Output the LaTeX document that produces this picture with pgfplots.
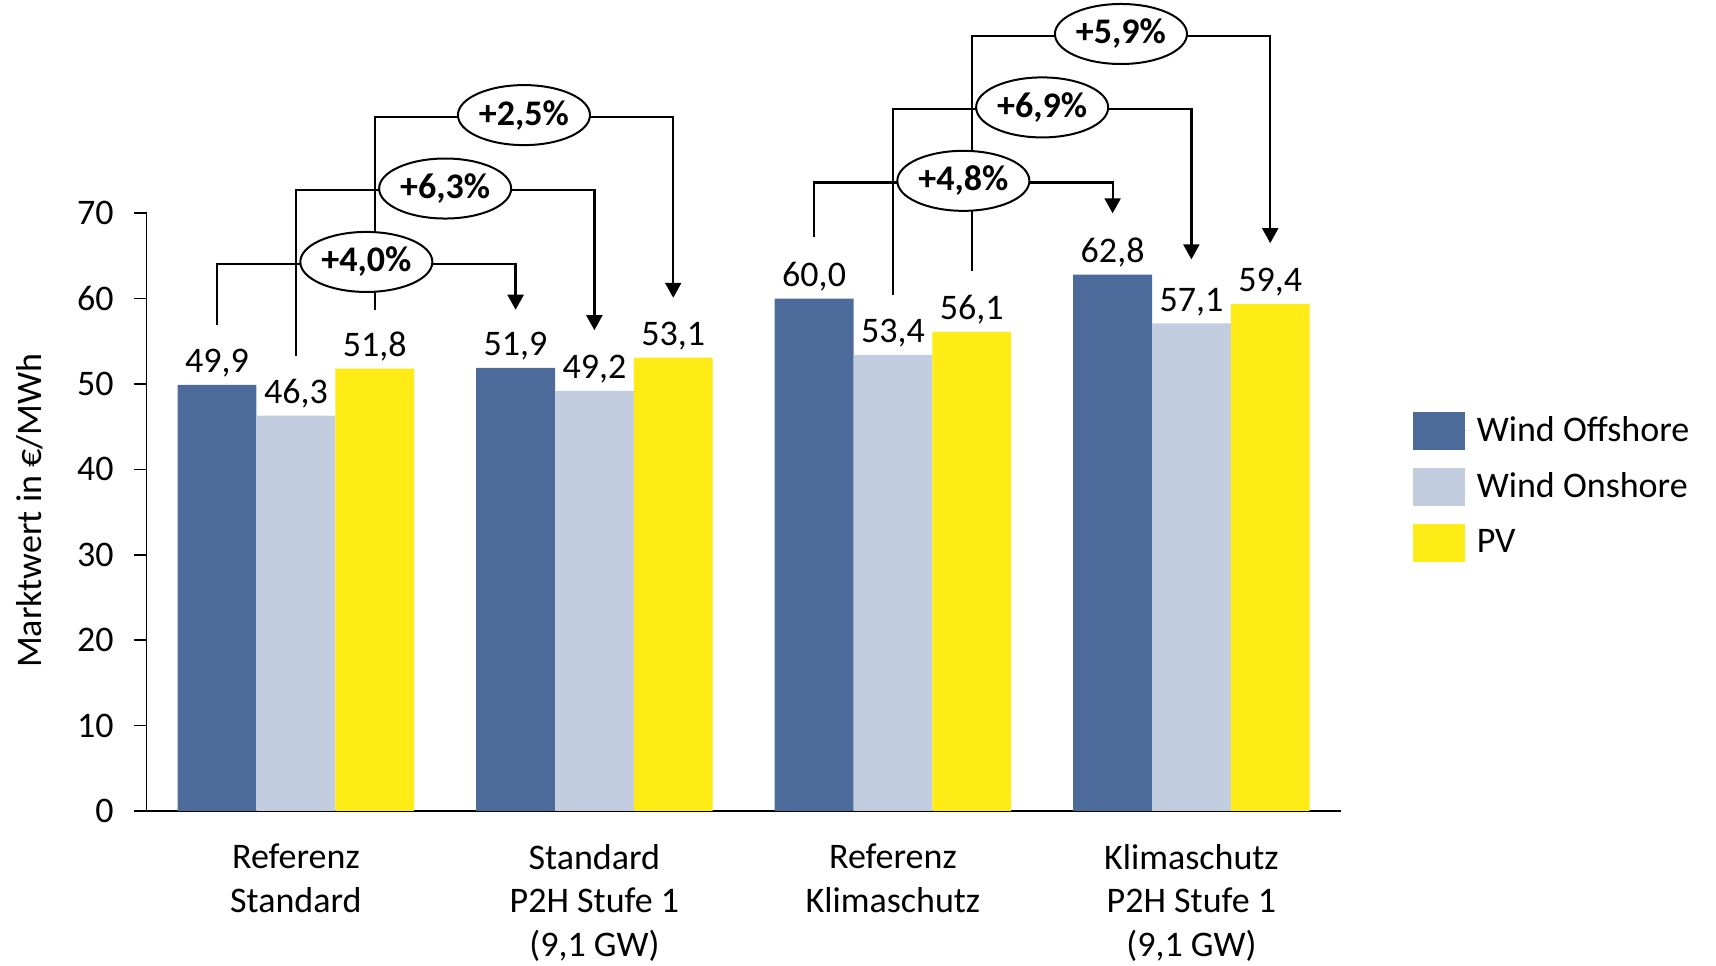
\documentclass[border=0pt]{standalone}
\usepackage{pgfplots}
\pgfplotsset{compat=1.18}
\usepackage{fontspec}
\setmainfont{Carlito}
\usetikzlibrary{arrows.meta,shapes.geometric}
\definecolor{offc}{RGB}{77,107,154}
\definecolor{onc}{RGB}{195,205,224}
\definecolor{pvc}{RGB}{255,235,22}
\newcommand{\fs}{\fontsize{18}{21.9}\selectfont}
\begin{document}
\begin{tikzpicture}[
  br/.style={line width=1.1pt, line join=miter},
  bra/.style={br, -{Triangle[length=7.5pt,width=8pt]}},
  pct/.style={draw, line width=1pt, ellipse, fill=white, minimum width=66pt, minimum height=30pt, inner sep=0pt, font=\fs\bfseries}
]
\begin{axis}[
  scale only axis,
  width=596.8pt, height=298.7pt,
  xmin=-0.5, xmax=3.5, ymin=0, ymax=70,
  clip=false,
  axis x line=bottom, axis y line=left,
  axis line style={-, line width=0.8pt},
  ytick={0,10,...,70},
  xtick={0,1,2,3},
  xticklabels={{Referenz\\Standard},{Standard\\P2H Stufe 1\\(9,1 GW)},{Referenz\\Klimaschutz},{Klimaschutz\\P2H Stufe 1\\(9,1 GW)}},
  xticklabel style={align=center, font=\fs, yshift=-6.6pt},
  yticklabel style={font=\fs},
  yticklabel shift=6.5pt,
  x tick style={draw=none},
  y tick style={line width=0.8pt, black},
  tick align=outside, major tick length=6.5pt,
  /pgf/number format/assume math mode=true,
  ylabel={Marktwert in €/MWh},
  y label style={at={(axis description cs:-0.098,0.502)}, anchor=center, font=\fs},
  ybar, bar width=0.264,
  nodes near coords,
  every node near coord/.append style={font=\fs, inner sep=2pt, yshift=1.5pt},
  nodes near coords style={/pgf/number format/.cd, fixed, fixed zerofill, precision=1, use comma},
  legend style={at={(rel axis cs:1.055,0.675)}, anchor=north west, draw=none, fill=none,
    font=\fs, row sep=9pt, legend cell align=left},
  legend image code/.code={\fill[#1] (0pt,-9.5pt) rectangle (26pt,9.5pt); \path (26pt,0pt) -- (30pt,0pt);},
]
\addplot[fill=offc, draw=none, bar shift=0pt] coordinates {(-0.264,49.9) (0.736,51.9) (1.736,60.0) (2.736,62.8)};
\addplot[fill=onc, draw=none, bar shift=0pt] coordinates {(0,46.3) (1,49.2) (2,53.4) (3,57.1)};
\addplot[fill=pvc, draw=none, bar shift=0pt] coordinates {(0.264,51.8) (1.264,53.1) (2.264,56.1) (3.264,59.4)};
\legend{Wind Offshore, Wind Onshore, PV}
% brackets group 1
\draw[bra] (axis cs:-0.264,56.9) -- (axis cs:-0.264,64.1) -- (axis cs:0.736,64.1) -- (axis cs:0.736,58.7);
\draw[bra] (axis cs:0,53.3) -- (axis cs:0,72.7) -- (axis cs:1,72.7) -- (axis cs:1,56.3);
\draw[bra] (axis cs:0.264,58.7) -- (axis cs:0.264,81.3) -- (axis cs:1.264,81.3) -- (axis cs:1.264,60.1);
% brackets group 3
\draw[bra] (axis cs:1.736,67.2) -- (axis cs:1.736,73.6) -- (axis cs:2.736,73.6) -- (axis cs:2.736,70.0);
\draw[bra] (axis cs:2,60.4) -- (axis cs:2,82.2) -- (axis cs:3,82.2) -- (axis cs:3,64.6);
\draw[bra] (axis cs:2.264,63.2) -- (axis cs:2.264,90.8) -- (axis cs:3.264,90.8) -- (axis cs:3.264,66.5);
\node[pct] at (axis cs:0.236,64.3) {+4,0\%};
\node[pct] at (axis cs:0.5,72.9) {+6,3\%};
\node[pct] at (axis cs:0.764,81.5) {+2,5\%};
\node[pct] at (axis cs:2.236,73.8) {+4,8\%};
\node[pct] at (axis cs:2.5,82.4) {+6,9\%};
\node[pct] at (axis cs:2.764,91.0) {+5,9\%};
\end{axis}
\pgfresetboundingbox
\path (-73.3pt,-77.1pt) rectangle (784.4pt,405.3pt);
\end{tikzpicture}
\end{document}
